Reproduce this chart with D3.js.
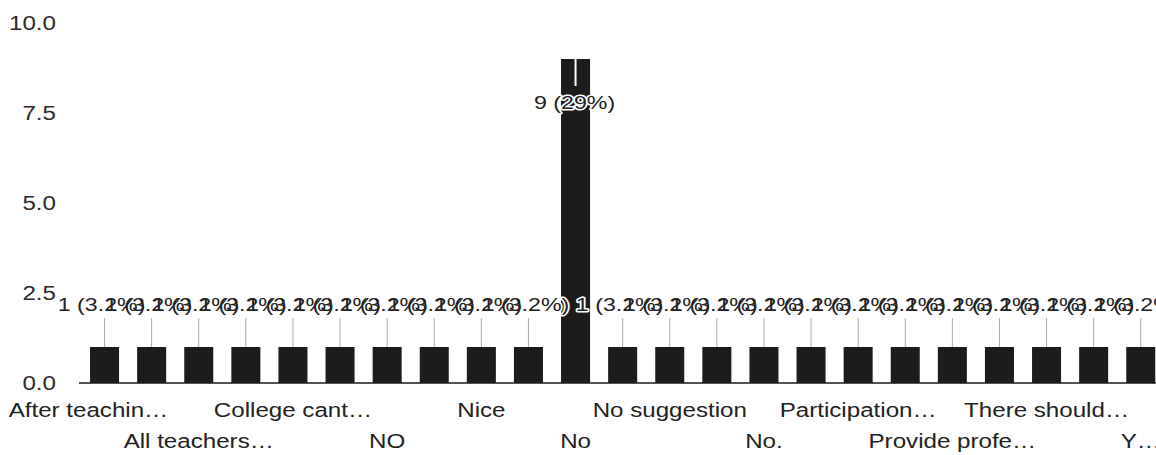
<!DOCTYPE html>
<html><head><meta charset="utf-8">
<script src="https://cdn.jsdelivr.net/npm/d3@7"></script>
<style>
html,body{margin:0;padding:0;background:#fff;}
svg{display:block;font-family:"Liberation Sans",Arial,sans-serif;}
</style></head><body>
<svg id="chart" width="1156" height="455"></svg>
<script>
// Categories (only every other label is legible / shown in the original chart)
const categories = ["After teachin…", "", "All teachers…", "", "College cant…", "", "NO", "", "Nice", "", "No", "",
  "No suggestion", "", "No.", "", "Participation…", "", "Provide profe…", "", "There should…", "", "Y…"];
const values = [1,1,1,1,1,1,1,1,1,1,9,1,1,1,1,1,1,1,1,1,1,1,1];
const yTicks = [0, 2.5, 5, 7.5, 10];

const svg = d3.select("#chart");
const W = 1156, H = 455;
const total = d3.sum(values);
const pctFmt = d3.format(".2r");
const idx = values.map((_, i) => i);

const x = d3.scaleBand().domain(idx).range([81, 1164.3]).paddingInner(0.384).paddingOuter(0.192);
const y = d3.scaleLinear().domain([0, 10]).range([383, 23]);

const INK = "#1c1c1c";
const SX = 1.15; // horizontal glyph stretch seen in the reference

// bars
svg.append("g").selectAll("rect").data(values).join("rect")
  .attr("x", (d, i) => x(i)).attr("width", x.bandwidth())
  .attr("y", d => y(d)).attr("height", d => y(0) - y(d))
  .attr("fill", INK);

// baseline
svg.append("line").attr("x1", 79).attr("x2", W).attr("y1", y(0)).attr("y2", y(0))
  .attr("stroke", INK).attr("stroke-width", 1.5);

// y axis
const yAx = svg.append("g").attr("transform", "translate(56,0)")
  .call(d3.axisLeft(y).tickValues(yTicks).tickFormat(d3.format(".1f")).tickSize(0).tickPadding(0));
yAx.select(".domain").remove();
yAx.selectAll("text").attr("font-size", 21).attr("fill", "#2a2a2a")
  .attr("font-family", "Liberation Sans, Arial, sans-serif")
  .attr("transform", `scale(${SX},1)`);

// x axis labels (every other category, two rows)
const xAx = svg.append("g")
  .call(d3.axisBottom(x).tickValues(idx.filter(i => i % 2 === 0)).tickFormat(i => categories[i]).tickSize(0));
xAx.select(".domain").remove();
xAx.selectAll("text")
  .attr("font-size", 21).attr("fill", "#222")
  .attr("font-family", "Liberation Sans, Arial, sans-serif")
  .attr("dy", 0)
  .attr("y", d => ((d / 2) % 2 === 0) ? 417 : 448)
  .attr("transform", `scale(${SX},1)`);
// shift first label so it stays inside the picture
xAx.selectAll(".tick").filter(d => d === 0).select("text").attr("x", -14);

// leader lines for small bars
const small = idx.filter(i => values[i] < 5);
const big = idx.filter(i => values[i] >= 5);
const cx = i => x(i) + x.bandwidth() / 2;

svg.append("g").selectAll("line").data(small).join("line")
  .attr("x1", cx).attr("x2", cx).attr("y1", 318).attr("y2", i => y(values[i]))
  .attr("stroke", "#aaa").attr("stroke-width", 1);

// stem inside the big bar
svg.append("g").selectAll("line").data(big).join("line")
  .attr("x1", cx).attr("x2", cx).attr("y1", i => y(values[i])).attr("y2", i => y(values[i]) + 27)
  .attr("stroke", "#fff").attr("stroke-width", 2);

const labelText = i => `${values[i]} (${pctFmt(values[i] / total * 100)}%)`;
const labelPos = i => values[i] < 5 ? [cx(i) - 3, 311] : [cx(i) - 1, 109];
const LSX = 1.22;

const lblG = svg.append("g");
// halos first, then fills
["halo", "fill"].forEach(kind => {
  lblG.append("g").selectAll("text").data(idx).join("text")
    .attr("transform", i => `translate(${labelPos(i)[0]},${labelPos(i)[1]}) scale(${LSX},1)`)
    .attr("text-anchor", "middle")
    .attr("font-size", 19)
    .attr("fill", kind === "halo" ? "#fff" : "#222")
    .attr("stroke", kind === "halo" ? "#fff" : "none")
    .attr("stroke-width", kind === "halo" ? 3 : 0)
    .attr("stroke-linejoin", "round")
    .text(labelText);
});
</script>
</body></html>
